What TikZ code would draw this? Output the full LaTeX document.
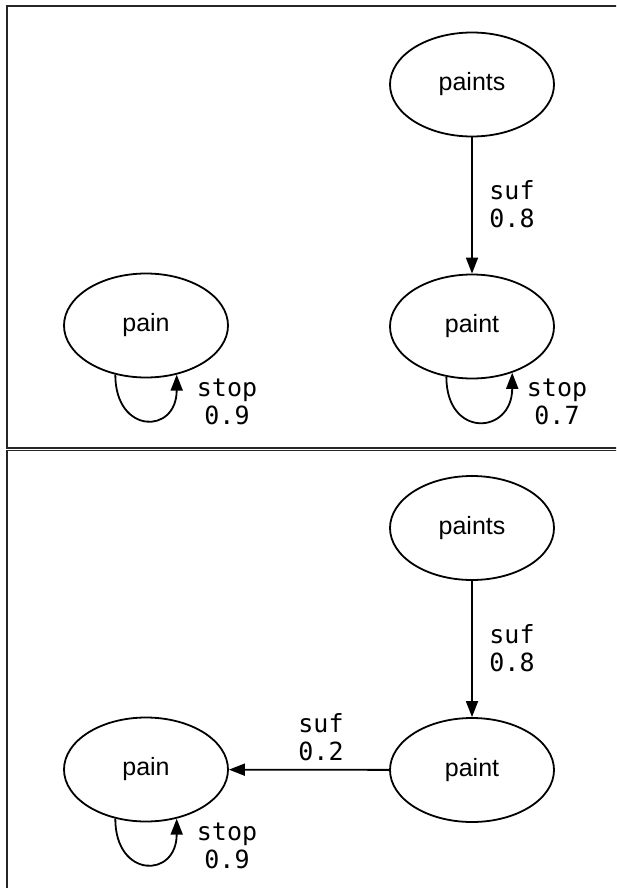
\documentclass[tikz,border=0pt]{standalone}
\usepackage{fontspec}
\setmainfont{Liberation Sans}
\newfontfamily\monofont{DejaVu Sans Mono}
\usetikzlibrary{shapes.geometric,arrows.meta}
\tikzset{
  state/.style={ellipse,draw,line width=1.8pt,minimum width=164pt,minimum height=104pt,inner sep=0pt,font=\fontsize{25}{30}\selectfont},
  edge/.style={line width=1.8pt,-{Triangle[length=16pt,width=12pt]}},
  lbl/.style={align=center,inner sep=0pt,font=\monofont\fontsize{25}{28}\selectfont},
  frame/.style={line width=1.3pt,draw=black!85}
}
\begin{document}
\begin{tikzpicture}[x=1pt,y=-1pt]
\useasboundingbox (0,0) rectangle (616,888);
\clip (0,0) rectangle (616,888);
\draw[frame] (7,6) rectangle (700,448);
\draw[frame] (7,450.5) rectangle (700,950);
% top panel
\node[state] (a1) at (472,84.5) {paints};
\node[state] (b1) at (472,326.5) {paint};
\node[state] (c1) at (146,325.5) {pain};
\draw[edge] (a1) -- (b1);
\node[lbl] (la1) at (512,204) {suf\\0.8};
\draw[edge] (c1.238) .. controls +(0,60) and +(0,60) .. (c1.302);
\node[lbl] (lc1) at (227,402) {stop\\0.9};
\draw[edge] (b1.243) .. controls +(0,62) and +(0,62) .. (b1.311);
\node[lbl] (lb1) at (557,402) {stop\\0.7};
% bottom panel
\node[state] (a2) at (472,528) {paints};
\node[state] (b2) at (472,770) {paint};
\node[state] (c2) at (146,769.5) {pain};
\draw[edge] (a2) -- (b2);
\node[lbl] (la2) at (512,648) {suf\\0.8};
\draw[edge] (b2) -- (c2);
\node[lbl] (lb2) at (321,737) {suf\\0.2};
\draw[edge] (c2.238) .. controls +(0,60) and +(0,60) .. (c2.302);
\node[lbl] (lc2) at (227,846) {stop\\0.9};
\end{tikzpicture}
\end{document}
